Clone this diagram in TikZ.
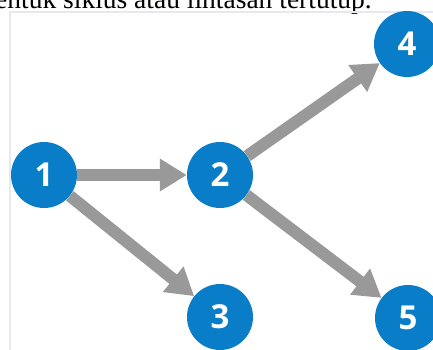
\documentclass[tikz,border=0pt]{standalone}
\usepackage{fontspec}
\setmainfont{Liberation Serif}
\newfontfamily\numfont{Open Sans}
\usetikzlibrary{arrows.meta}
\definecolor{nodeblue}{HTML}{0A7DC9}
\definecolor{arrowgray}{HTML}{999999}
\definecolor{framecol}{HTML}{E6E9F0}
\tikzset{
  vtx/.style={circle, fill=nodeblue, minimum size=66pt, inner sep=0pt,
    text=white, font=\numfont\bfseries\fontsize{33}{33}\selectfont},
  edgearrow/.style={draw=arrowgray, line width=12pt,
    -{Triangle[width=31pt,length=27pt]}},
  framestyle/.style={draw=framecol, line width=1.5pt}
}
\begin{document}
\begin{tikzpicture}[x=1pt,y=-1pt]
\useasboundingbox (0,0) rectangle (433,349);
\clip (0,0) rectangle (433,349);
\node[anchor=base west, inner sep=0pt, font=\fontsize{27.5}{27.5}\selectfont] (caption) at (-5,8) {entuk siklus atau lintasan tertutup.};
\coordinate (fa) at (10,360);
\coordinate (fb) at (10,12);
\coordinate (fc) at (440,12);
\draw[framestyle] (fa) -- (fb) -- (fc);
\node[vtx] (n1) at (44,175) {1};
\node[vtx] (n2) at (220,175) {2};
\node[vtx] (n3) at (220,317) {3};
\node[vtx] (n4) at (407,44) {4};
\node[vtx] (n5) at (408,318) {5};
\draw[edgearrow] (n1) -- (n2);
\draw[edgearrow] (n1) -- (n3);
\draw[edgearrow] (n2) -- (n4);
\draw[edgearrow] (n2) -- (n5);
\end{tikzpicture}
\end{document}
